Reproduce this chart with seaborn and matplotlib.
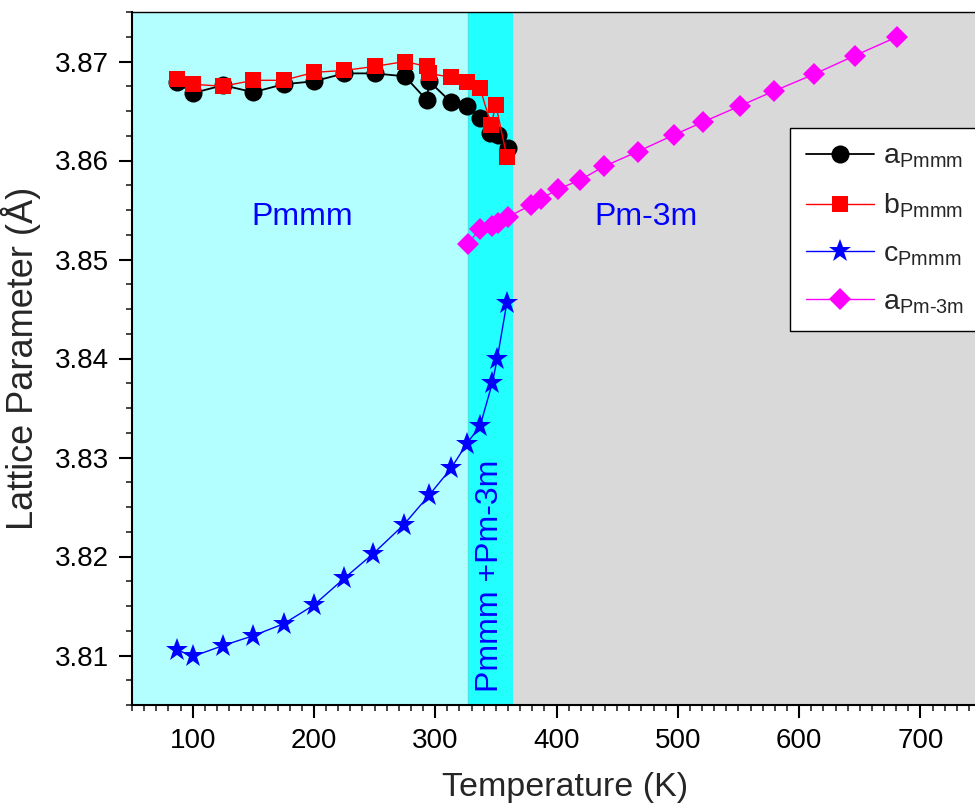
import matplotlib
matplotlib.use("Agg")
import matplotlib.pyplot as plt
from matplotlib.ticker import MultipleLocator, FormatStrFormatter
import seaborn as sns

# ---- data ----
T_a = [87, 100, 125, 150, 175, 200, 225, 250, 275, 293, 295, 313, 326, 337, 345, 352, 360]
a_pmmm = [3.8679, 3.8668, 3.8676, 3.8669, 3.8677, 3.8680, 3.8688, 3.8688, 3.8685,
          3.8661, 3.8680, 3.8659, 3.8655, 3.8643, 3.8628, 3.8626, 3.8613]

T_b = [87, 100, 125, 150, 175, 200, 225, 250, 275, 293, 295, 313, 326, 337, 346, 350, 359]
b_pmmm = [3.8682, 3.8677, 3.8675, 3.8681, 3.8681, 3.8689, 3.8691, 3.8695, 3.8700,
          3.8695, 3.8688, 3.8684, 3.8679, 3.8673, 3.8636, 3.8656, 3.8604]

T_c = [87, 100, 125, 150, 175, 200, 225, 249, 274, 295, 313, 326, 337, 347, 351, 359]
c_pmmm = [3.8106, 3.8099, 3.8110, 3.8120, 3.8132, 3.8151, 3.8178, 3.8203, 3.8232,
          3.8262, 3.8289, 3.8314, 3.8332, 3.8375, 3.8399, 3.8456]

T_cub = [327, 337, 347, 352, 360, 379, 387, 401, 419, 439, 467, 497, 521, 551, 579, 612, 646, 681]
a_cub = [3.8516, 3.8531, 3.8534, 3.8537, 3.8543, 3.8555, 3.8561, 3.8571, 3.8580,
         3.8594, 3.8609, 3.8626, 3.8639, 3.8655, 3.8670, 3.8687, 3.8706, 3.8725]

# phase regions (K)
x_min, x_max = 50, 745
t_mix_lo, t_mix_hi = 327, 364

sns.set_style("ticks")
plt.rcParams['font.family'] = ['Liberation Sans', 'DejaVu Sans']
plt.rcParams['mathtext.fontset'] = 'custom'
plt.rcParams['mathtext.rm'] = 'Liberation Sans'
plt.rcParams['mathtext.it'] = 'Liberation Sans'

fig = plt.figure(figsize=(9.75, 8.08), dpi=100)
ax = fig.add_axes([132 / 975, 1 - 705 / 808, 1 - 132 / 975, (705 - 12) / 808])

# background phase shading
ax.axvspan(x_min, t_mix_lo, color='#B3FFFF', lw=0, zorder=0)
ax.axvspan(t_mix_lo, t_mix_hi, facecolor='#22FFFF', edgecolor='#3FE6E6', lw=1, zorder=0)
ax.axvspan(t_mix_hi, x_max, color='#D9D9D9', lw=0, zorder=0)

common = dict(estimator=None, sort=False, ax=ax, markeredgewidth=0)
sns.lineplot(x=T_a, y=a_pmmm, color='black', lw=1.3, marker='o', markersize=13,
             label=r'a$_{\rm Pmmm}$', **common)
sns.lineplot(x=T_b, y=b_pmmm, color='#FF0000', lw=1.0, marker='s', markersize=11.5,
             label=r'b$_{\rm Pmmm}$', **common)
sns.lineplot(x=T_c, y=c_pmmm, color='#0000FF', lw=1.0, marker='*', markersize=17,
             label=r'c$_{\rm Pmmm}$', **common)
sns.lineplot(x=T_cub, y=a_cub, color='#FF00FF', lw=1.0, marker='D', markersize=11,
             label=r'a$_{\text{Pm-3m}}$', **common)

# phase labels
ax.text(190, 3.8543, 'Pmmm', color='#0000FF', fontsize=23, ha='center', va='center')
ax.text(474, 3.8543, 'Pm-3m', color='#0000FF', fontsize=23, ha='center', va='center')
ax.text(345, 3.818, 'Pmmm +Pm-3m', color='#0000FF', fontsize=23, rotation=90,
        ha='center', va='center')

ax.set_xlim(x_min, x_max)
ax.set_ylim(3.805, 3.875)
ax.xaxis.set_major_locator(MultipleLocator(100))
ax.xaxis.set_minor_locator(MultipleLocator(10))
ax.yaxis.set_major_locator(MultipleLocator(0.01))
ax.yaxis.set_minor_locator(MultipleLocator(0.0025))
ax.yaxis.set_major_formatter(FormatStrFormatter('%.2f'))
ax.tick_params(which='major', direction='out', length=9.5, width=1.5, labelsize=20,
               colors='black', pad=7)
ax.tick_params(which='minor', direction='out', length=4.5, width=1.2)

for s in ['left', 'bottom']:
    ax.spines[s].set_linewidth(1.5)
    ax.spines[s].set_color('black')
ax.spines['top'].set_linewidth(1.0)
ax.spines['top'].set_color('black')
ax.spines['right'].set_visible(False)

ax.set_xlabel('Temperature (K)', fontsize=24.5)
ax.xaxis.set_label_coords(0.514, -0.097)
ax.set_ylabel('Lattice Parameter (Å)', fontsize=26, labelpad=10)

leg = ax.legend(loc='upper left', bbox_to_anchor=(790 / 975, 1 - 128 / 808),
                bbox_transform=fig.transFigure, borderaxespad=0, fontsize=20.5,
                handlelength=2.4, handletextpad=0.3, labelspacing=0.75,
                borderpad=0.55, frameon=True, fancybox=False, framealpha=1)
leg.get_frame().set_edgecolor('black')
leg.get_frame().set_linewidth(1.0)

plt.savefig('out.png', dpi=100)
